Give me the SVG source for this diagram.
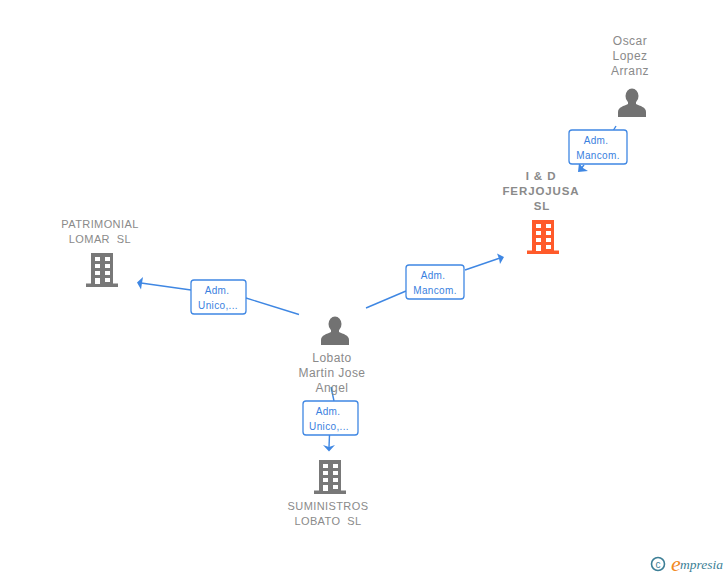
<svg xmlns="http://www.w3.org/2000/svg" width="728" height="575" viewBox="0 0 728 575">
<defs>
<style>
text{font-family:"Liberation Sans",Arial,sans-serif;white-space:pre}
.n{font-size:12px;fill:#8a8a8a;text-anchor:middle;letter-spacing:.45px}
.b{font-size:11.500px;fill:#8a8a8a;text-anchor:middle;font-weight:bold;letter-spacing:.9px}
.c{font-size:11px;fill:#8a8a8a;text-anchor:middle;letter-spacing:.4px}
.e{font-size:10px;fill:#3a7fe0;text-anchor:middle;letter-spacing:.35px}
.l{fill:none;stroke:#3f87e3;stroke-width:1.4}
.box{fill:#fff;stroke:#3f87e3;stroke-width:1.300}
.a{fill:#3f87e3}
</style>
<g id="person"><ellipse cx="0" cy="-7" rx="6.500" ry="7.500" fill="#727272"/><path d="M-14 14V9C-14 4-8 3-4 1V-4H4V1C8 3 14 4 14 9V14Z" fill="#727272"/></g>
<g id="bld"><path d="M-11 -17H11V13.500H16V17H-16V13.500H-11Z" fill="currentColor"/>
<path fill="#fff" d="M-7 -13H-2V-9H-7ZM3 -13H8V-9H3ZM-7 -6H-2V-2H-7ZM3 -6H8V-2H3ZM-7 1H-2V5H-7ZM3 1H8V5H3ZM-7 8H-2V14H-7ZM3 8H8V12H3Z"/></g>
</defs>
<rect width="728" height="575" fill="#fff"/>
<g id="connectors">
<path class="l" d="M616 126L613 131"/><path class="l" d="M584 165L580 170"/><path class="a" d="M578 172L579 163L583 168L588 171Z"/>
<path class="l" d="M299 314.500L246 298"/><path class="l" d="M191 290L141 283"/><path class="a" d="M137 282.500L143 277L142 283L141 289.500Z"/>
<path class="l" d="M366 308L406 291"/><path class="l" d="M465 270L500 258"/><path class="a" d="M504 257L497 253.500L499 258.500L500 264Z"/>
<path class="l" d="M331 387L334 401"/><path class="l" d="M329.500 435L329 447"/><path class="a" d="M329 451.500L323 445L329 447L335 445Z"/>
</g>
<g id="n-oscar"><text class="n" x="630" y="45">Oscar</text><text class="n" x="630" y="60">Lopez</text><text class="n" x="630" y="75">Arranz</text><use href="#person" x="632" y="103"/></g>
<g id="n-ferjojusa" color="#ff5a2a"><text class="b" x="541" y="180">I &amp; D</text><text class="b" x="541" y="195">FERJOJUSA</text><text class="b" x="542" y="210">SL</text><use href="#bld" x="543" y="237"/></g>
<g id="n-patrimonial" color="#787878"><text class="c" x="100" y="228">PATRIMONIAL</text><text class="c" x="100" y="243">LOMAR  SL</text><use href="#bld" x="102" y="270"/></g>
<g id="n-lobato"><use href="#person" x="335" y="331"/><text class="n" x="332" y="362">Lobato</text><text class="n" x="332" y="377">Martin Jose</text><text class="n" x="332" y="392">Angel</text></g>
<g id="n-suministros" color="#787878"><use href="#bld" x="330" y="477"/><text class="c" x="328" y="510">SUMINISTROS</text><text class="c" x="328" y="525">LOBATO  SL</text></g>
<g id="e1"><rect class="box" x="569" y="130" width="58" height="34" rx="3"/><text class="e" x="596" y="144">Adm.</text><text class="e" x="598" y="159">Mancom.</text></g>
<g id="e2"><rect class="box" x="191" y="280" width="55" height="34" rx="3"/><text class="e" x="217" y="294">Adm.</text><text class="e" x="218" y="309">Unico,...</text></g>
<g id="e3"><rect class="box" x="406" y="265" width="58" height="34" rx="3"/><text class="e" x="433" y="279">Adm.</text><text class="e" x="435" y="294">Mancom.</text></g>
<g id="e4"><rect class="box" x="303" y="401" width="55" height="34" rx="3"/><text class="e" x="328" y="415">Adm.</text><text class="e" x="329" y="430">Unico,...</text></g>
<g id="brand"><circle cx="658" cy="564" r="6.500" fill="none" stroke="#3d7f96" stroke-width="1.600"/><text x="658" y="567.500" font-size="10" fill="#3d7f96" text-anchor="middle">c</text><text x="671" y="571" font-size="22" font-style="italic" fill="#f28a1e" style="font-family:'Liberation Serif',serif">e</text><text x="680" y="569" font-size="13.500" font-style="italic" fill="#3d7f96" style="font-family:'Liberation Serif',serif">mpresia</text></g>
</svg>
